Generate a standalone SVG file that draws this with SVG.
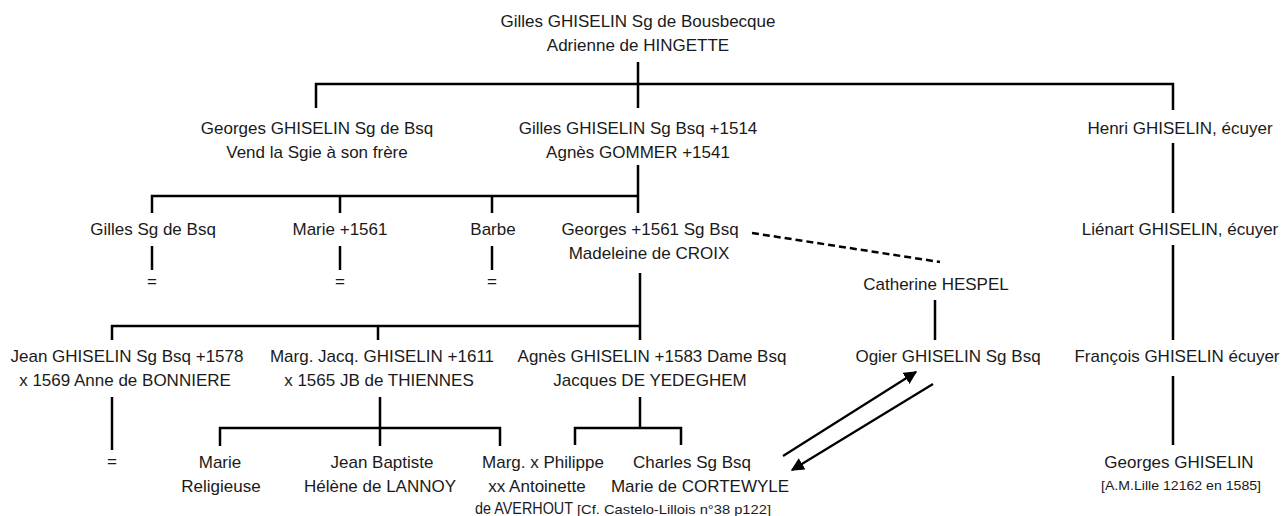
<svg xmlns="http://www.w3.org/2000/svg" width="1287" height="516" viewBox="0 0 1287 516">
<style>
text{font-family:"Liberation Sans",Arial,sans-serif;font-size:17px;fill:#1a1a1a;text-anchor:middle}
text.s{font-size:13px}
text.l{text-anchor:start}
.c line,.c path{stroke:#000;stroke-width:2.5;fill:none}
.c .d{stroke-dasharray:7 4}
.c .a{stroke-width:2.2}
</style>
<defs>
<marker id="ah" viewBox="0 0 10 10" refX="9" refY="5" markerWidth="6" markerHeight="6" orient="auto" markerUnits="strokeWidth">
<path d="M0,0 L10,5 L0,10 z" fill="#000"/>
</marker>
</defs>
<rect width="1287" height="516" fill="#fff"/>
<g class="c" id="connectors">
<path d="M638,62 V108 M316,108 V84 H1173 V110"/>
<path d="M638,165 V213 M152,213 V196 H638 M340,196 V213 M492,196 V213"/>
<line x1="1173" y1="143" x2="1173" y2="213"/>
<line x1="1173" y1="245" x2="1173" y2="340"/>
<line x1="1173" y1="376" x2="1173" y2="445"/>
<line x1="152" y1="246" x2="152" y2="270"/>
<line x1="340" y1="246" x2="340" y2="270"/>
<line x1="492" y1="246" x2="492" y2="270"/>
<line class="d" x1="752" y1="233" x2="940" y2="262"/>
<line x1="935" y1="300" x2="935" y2="340"/>
<path d="M640,273 V340 M112,340 V326 H640 M378,326 V340"/>
<line x1="112" y1="397" x2="112" y2="450"/>
<path d="M380,397 V428 M220,446 V428 H500 V446 M380,428 V446"/>
<path d="M640,397 V428 M575,445 V428 H681 V445"/>
<line class="a" x1="783" y1="456" x2="916" y2="372" marker-end="url(#ah)"/>
<line class="a" x1="933" y1="384" x2="792" y2="470" marker-end="url(#ah)"/>
</g>
<g id="n-root"><text x="638" y="27">Gilles GHISELIN Sg de Bousbecque</text><text x="638" y="51">Adrienne de HINGETTE</text></g>
<g id="n-georges1"><text x="317" y="134">Georges GHISELIN Sg de Bsq</text><text x="317" y="158">Vend la Sgie à son frère</text></g>
<g id="n-gilles2"><text x="638" y="134">Gilles GHISELIN Sg Bsq +1514</text><text x="638" y="158">Agnès GOMMER +1541</text></g>
<g id="n-henri"><text x="1180" y="134">Henri GHISELIN, écuyer</text></g>
<g id="n-gilles3"><text x="153" y="235">Gilles Sg de Bsq</text><text x="152" y="287">=</text></g>
<g id="n-marie3"><text x="340" y="235">Marie +1561</text><text x="340" y="287">=</text></g>
<g id="n-barbe"><text x="493" y="235">Barbe</text><text x="492" y="287">=</text></g>
<g id="n-georges3"><text x="650" y="235">Georges +1561 Sg Bsq</text><text x="649" y="259">Madeleine de CROIX</text></g>
<g id="n-lienart"><text x="1180" y="235">Liénart GHISELIN, écuyer</text></g>
<g id="n-catherine"><text x="936" y="290">Catherine HESPEL</text></g>
<g id="n-jean"><text x="127" y="362">Jean GHISELIN Sg Bsq +1578</text><text x="125" y="386">x 1569 Anne de BONNIERE</text><text x="112" y="467">=</text></g>
<g id="n-marg"><text x="382" y="362">Marg. Jacq. GHISELIN +1611</text><text x="379" y="386">x 1565 JB de THIENNES</text></g>
<g id="n-agnes"><text x="652" y="362">Agnès GHISELIN +1583 Dame Bsq</text><text x="650" y="386">Jacques DE YEDEGHEM</text></g>
<g id="n-ogier"><text x="948" y="362">Ogier GHISELIN Sg Bsq</text></g>
<g id="n-francois"><text x="1177" y="362">François GHISELIN écuyer</text></g>
<g id="n-marie5"><text x="220" y="468">Marie</text><text x="221" y="492">Religieuse</text></g>
<g id="n-jb"><text x="382" y="468">Jean Baptiste</text><text x="380" y="492">Hélène de LANNOY</text></g>
<g id="n-marg5"><text x="543" y="468">Marg. x Philippe</text><text x="537" y="492">xx Antoinette</text><text x="524" y="514" textLength="98" lengthAdjust="spacingAndGlyphs">de AVERHOUT</text><text class="s l" x="577" y="514" textLength="194" lengthAdjust="spacingAndGlyphs">[Cf. Castelo-Lillois n°38 p122]</text></g>
<g id="n-charles"><text x="692" y="468">Charles Sg Bsq</text><text x="700" y="492">Marie de CORTEWYLE</text></g>
<g id="n-georges5"><text x="1179" y="468">Georges GHISELIN</text><text class="s" x="1181" y="490" textLength="160" lengthAdjust="spacingAndGlyphs">[A.M.Lille 12162 en 1585]</text></g>
</svg>
